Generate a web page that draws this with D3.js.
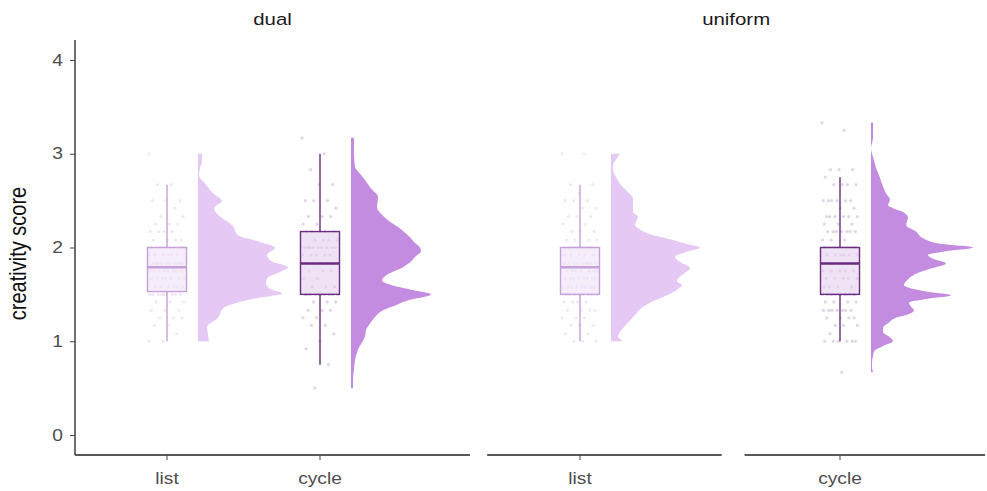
<!DOCTYPE html>
<html>
<head>
<meta charset="utf-8">
<script src="https://cdn.jsdelivr.net/npm/d3@7"></script>
<style>
  body { margin: 0; background: #fff; }
  svg { display: block; font-family: "Liberation Sans", Arial, sans-serif; }
</style>
</head>
<body>
<svg width="987" height="491"></svg>
<script>
// ---- data ----
const conditions = ["dual", "uniform"];
const categories = ["list", "cycle"];
const yTicks = [0, 1, 2, 3, 4];

// box stats, order: dual-list, dual-cycle, uniform-list, uniform-cycle
const whiskerLow = [1.0, 0.75, 1.0, 1.0];
const q1 = [1.53, 1.5, 1.5, 1.5];
const median = [1.79, 1.83, 1.79, 1.83];
const q3 = [2.0, 2.17, 2.0, 2.0];
const whiskerHigh = [2.67, 3.0, 2.67, 2.75];

// raw scores as [score, count]
const pointsDualList = [[3.0,1],[2.67,2],[2.5,3],[2.42,1],[2.33,2],[2.25,3],[2.17,4],[2.08,4],[2.0,10],[1.92,6],[1.83,10],[1.75,8],[1.67,7],[1.58,6],[1.5,9],[1.42,3],[1.33,3],[1.25,3],[1.17,2],[1.08,1],[1.0,2]];
const pointsDualCycle = [[3.17,1],[3.0,1],[2.83,1],[2.67,2],[2.5,3],[2.42,1],[2.33,3],[2.25,2],[2.17,5],[2.08,4],[2.0,9],[1.92,5],[1.83,6],[1.75,3],[1.67,2],[1.58,3],[1.5,10],[1.42,3],[1.33,3],[1.25,2],[1.17,2],[1.08,1],[1.0,1],[0.92,1],[0.75,1],[0.5,1]];
const pointsUniformList = [[3.0,2],[2.67,2],[2.58,1],[2.5,3],[2.42,2],[2.33,3],[2.25,2],[2.17,3],[2.08,4],[2.0,12],[1.92,6],[1.83,9],[1.75,7],[1.67,8],[1.58,8],[1.5,8],[1.42,4],[1.33,4],[1.25,3],[1.17,3],[1.08,2],[1.0,3]];
const pointsUniformCycle = [[3.33,1],[3.25,1],[2.83,3],[2.75,1],[2.67,4],[2.5,6],[2.42,2],[2.33,6],[2.25,3],[2.17,7],[2.08,3],[2.0,14],[1.92,6],[1.83,11],[1.75,5],[1.67,5],[1.58,4],[1.5,12],[1.42,4],[1.33,7],[1.25,4],[1.17,3],[1.08,1],[1.0,6],[0.67,1]];

// density profiles as [score, density]
const densDualList = [[1.0,0.11],[1.07,0.10],[1.15,0.09],[1.25,0.20],[1.35,0.25],[1.41,0.39],[1.46,0.59],[1.51,0.84],[1.56,0.72],[1.62,0.68],[1.67,0.69],[1.73,0.80],[1.79,0.90],[1.85,0.74],[1.92,0.69],[2.0,0.77],[2.06,0.62],[2.13,0.40],[2.24,0.34],[2.33,0.22],[2.42,0.16],[2.5,0.24],[2.56,0.17],[2.67,0.08],[2.77,0.01],[2.85,0.02],[2.93,0.04],[3.0,0.04]];
const densDualCycle = [[0.5,0.02],[0.6,0.02],[0.7,0.03],[0.8,0.04],[0.91,0.07],[1.05,0.14],[1.12,0.15],[1.19,0.19],[1.26,0.24],[1.33,0.32],[1.39,0.46],[1.44,0.58],[1.5,0.80],[1.55,0.60],[1.6,0.40],[1.65,0.31],[1.71,0.36],[1.79,0.52],[1.85,0.60],[1.9,0.64],[1.96,0.70],[2.0,0.69],[2.06,0.63],[2.11,0.59],[2.22,0.47],[2.3,0.36],[2.35,0.31],[2.43,0.26],[2.54,0.27],[2.63,0.20],[2.72,0.14],[2.8,0.08],[2.86,0.04],[3.0,0.03],[3.17,0.03]];
const densUniformList = [[1.0,0.12],[1.05,0.07],[1.14,0.12],[1.21,0.18],[1.28,0.24],[1.35,0.30],[1.41,0.39],[1.49,0.56],[1.55,0.66],[1.6,0.71],[1.64,0.66],[1.67,0.67],[1.73,0.74],[1.78,0.79],[1.84,0.70],[1.9,0.64],[1.95,0.74],[2.0,0.89],[2.04,0.75],[2.08,0.62],[2.15,0.37],[2.2,0.28],[2.24,0.24],[2.33,0.27],[2.38,0.22],[2.42,0.22],[2.52,0.22],[2.6,0.16],[2.68,0.09],[2.77,0.04],[2.83,0.02],[2.88,0.02],[2.94,0.05],[3.0,0.09]];
const densUniformCycle = [[0.67,0.02],[0.72,0.01],[0.78,0.01],[0.84,0.02],[0.89,0.03],[0.95,0.12],[1.0,0.22],[1.05,0.18],[1.1,0.12],[1.14,0.12],[1.2,0.18],[1.25,0.25],[1.29,0.38],[1.33,0.43],[1.37,0.40],[1.41,0.38],[1.45,0.55],[1.49,0.80],[1.53,0.55],[1.57,0.38],[1.6,0.33],[1.65,0.36],[1.71,0.43],[1.77,0.58],[1.83,0.75],[1.88,0.62],[1.92,0.57],[1.96,0.75],[2.0,1.02],[2.04,0.70],[2.1,0.52],[2.17,0.45],[2.24,0.35],[2.28,0.36],[2.32,0.37],[2.38,0.32],[2.42,0.22],[2.45,0.17],[2.51,0.19],[2.58,0.15],[2.65,0.12],[2.71,0.10],[2.77,0.08],[2.85,0.05],[2.93,0.03],[3.0,0.01],[3.06,0.0],[3.17,0.02],[3.25,0.02],[3.33,0.02]];

// ---- layout ----
const svg = d3.select("svg");
const plotTop = 40, plotBottom = 455;
const stretch = 1.2; // text in the picture is a bit wide

const colors = {
  list:  { dens: "#e6c8f4", box: "#c6a0d8", boxFill: "#efe1f6", pt: "#b88bcc" },
  cycle: { dens: "#c48ce0", box: "#6a2d80", boxFill: "#e4cfee", pt: "#6a2d80" },
};

// each facet: x positions of categories via a linear index scale, plus axis segments (in index units)
const panels = [
  { cond: "dual", x: d3.scaleLinear().domain([0, 1]).range([167, 320]),
    segments: [[-0.601, 1.98]], cats: categories },
  { cond: "uniform", x: d3.scaleLinear().domain([0, 1]).range([580, 840]),
    segments: [[-0.357, 0.545], [0.633, 1.558]], cats: categories },
];

const y = d3.scaleLinear().domain([0, 4]).range([435, 60]);
const w = d3.scaleLinear().domain([0, 1]).range([0, 100]);

const groups = [
  { cond: "dual", cat: "list", pts: pointsDualList, dens: densDualList },
  { cond: "dual", cat: "cycle", pts: pointsDualCycle, dens: densDualCycle },
  { cond: "uniform", cat: "list", pts: pointsUniformList, dens: densUniformList },
  { cond: "uniform", cat: "cycle", pts: pointsUniformCycle, dens: densUniformCycle },
];

// y axis
const yAxis = svg.append("g")
  .attr("transform", "translate(75,0)")
  .call(d3.axisLeft(y).tickValues(yTicks).tickSize(5).tickFormat(d3.format("d")));
yAxis.select(".domain").attr("d", `M0,${plotTop}V${plotBottom}`).attr("stroke", "#222").attr("stroke-width", 1.3);
yAxis.selectAll(".tick line").attr("stroke", "#444");
yAxis.selectAll(".tick text")
  .attr("x", null)
  .attr("text-anchor", "end")
  .attr("transform", `translate(-12,0) scale(${stretch},1)`)
  .attr("fill", "#4d4d4d")
  .style("font-size", "16px");

svg.append("text")
  .attr("transform", `translate(26,${(plotTop + plotBottom) / 2 + 6}) scale(${stretch},1) rotate(-90)`)
  .attr("text-anchor", "middle")
  .style("font-size", "20px")
  .attr("fill", "#111")
  .text("creativity score");

panels.forEach(p => {
  // x axis segments
  p.segments.forEach(s => {
    svg.append("line")
      .attr("x1", p.x(s[0])).attr("x2", p.x(s[1]))
      .attr("y1", plotBottom).attr("y2", plotBottom)
      .attr("stroke", "#222").attr("stroke-width", 1.3);
  });
  p.cats.forEach((c, i) => {
    svg.append("line")
      .attr("x1", p.x(i)).attr("x2", p.x(i))
      .attr("y1", plotBottom).attr("y2", plotBottom + 5)
      .attr("stroke", "#444");
    svg.append("text")
      .attr("transform", `translate(${p.x(i)},${plotBottom + 29}) scale(${stretch},1)`)
      .attr("text-anchor", "middle")
      .attr("fill", "#4d4d4d")
      .style("font-size", "16px")
      .text(c);
  });
  const ext = p.segments;
  const mid = (p.x(ext[0][0]) + p.x(ext[ext.length - 1][1])) / 2;
  svg.append("text")
    .attr("transform", `translate(${mid},25) scale(${stretch},1)`)
    .attr("text-anchor", "middle")
    .attr("fill", "#1a1a1a")
    .style("font-size", "17px")
    .text(p.cond);
});

const area = d3.area()
  .curve(d3.curveMonotoneY)
  .y(d => y(d[0]));

groups.forEach((g, gi) => {
  const p = panels.find(pp => pp.cond === g.cond);
  const cx = p.x(categories.indexOf(g.cat));
  const col = colors[g.cat];

  // jittered raw points
  const vals = g.pts.flatMap(([v, n]) => d3.range(n).map(() => v));
  svg.append("g").selectAll("circle")
    .data(vals)
    .join("circle")
    .attr("cx", (d, i) => cx + (((i * 0.6180339) % 1) - 0.5) * 36)
    .attr("cy", d => y(d))
    .attr("r", 1.6)
    .attr("fill", col.pt)
    .attr("fill-opacity", 0.2);

  // box
  const bw = 39;
  svg.append("line")
    .attr("x1", cx).attr("x2", cx)
    .attr("y1", y(whiskerHigh[gi])).attr("y2", y(q3[gi]))
    .attr("stroke", col.box).attr("stroke-width", 1.4);
  svg.append("line")
    .attr("x1", cx).attr("x2", cx)
    .attr("y1", y(q1[gi])).attr("y2", y(whiskerLow[gi]))
    .attr("stroke", col.box).attr("stroke-width", 1.4);
  svg.append("rect")
    .attr("x", cx - bw / 2).attr("width", bw)
    .attr("y", y(q3[gi])).attr("height", y(q1[gi]) - y(q3[gi]))
    .attr("fill", col.boxFill).attr("fill-opacity", 0.6)
    .attr("stroke", col.box).attr("stroke-width", 1.4);
  svg.append("line")
    .attr("x1", cx - bw / 2).attr("x2", cx + bw / 2)
    .attr("y1", y(median[gi])).attr("y2", y(median[gi]))
    .attr("stroke", col.box).attr("stroke-width", 2.6);

  // half violin
  const base = cx + 31;
  svg.append("path")
    .datum(g.dens)
    .attr("d", area.x0(base).x1(d => base + w(d[1])))
    .attr("fill", col.dens);
});
</script>
</body>
</html>
